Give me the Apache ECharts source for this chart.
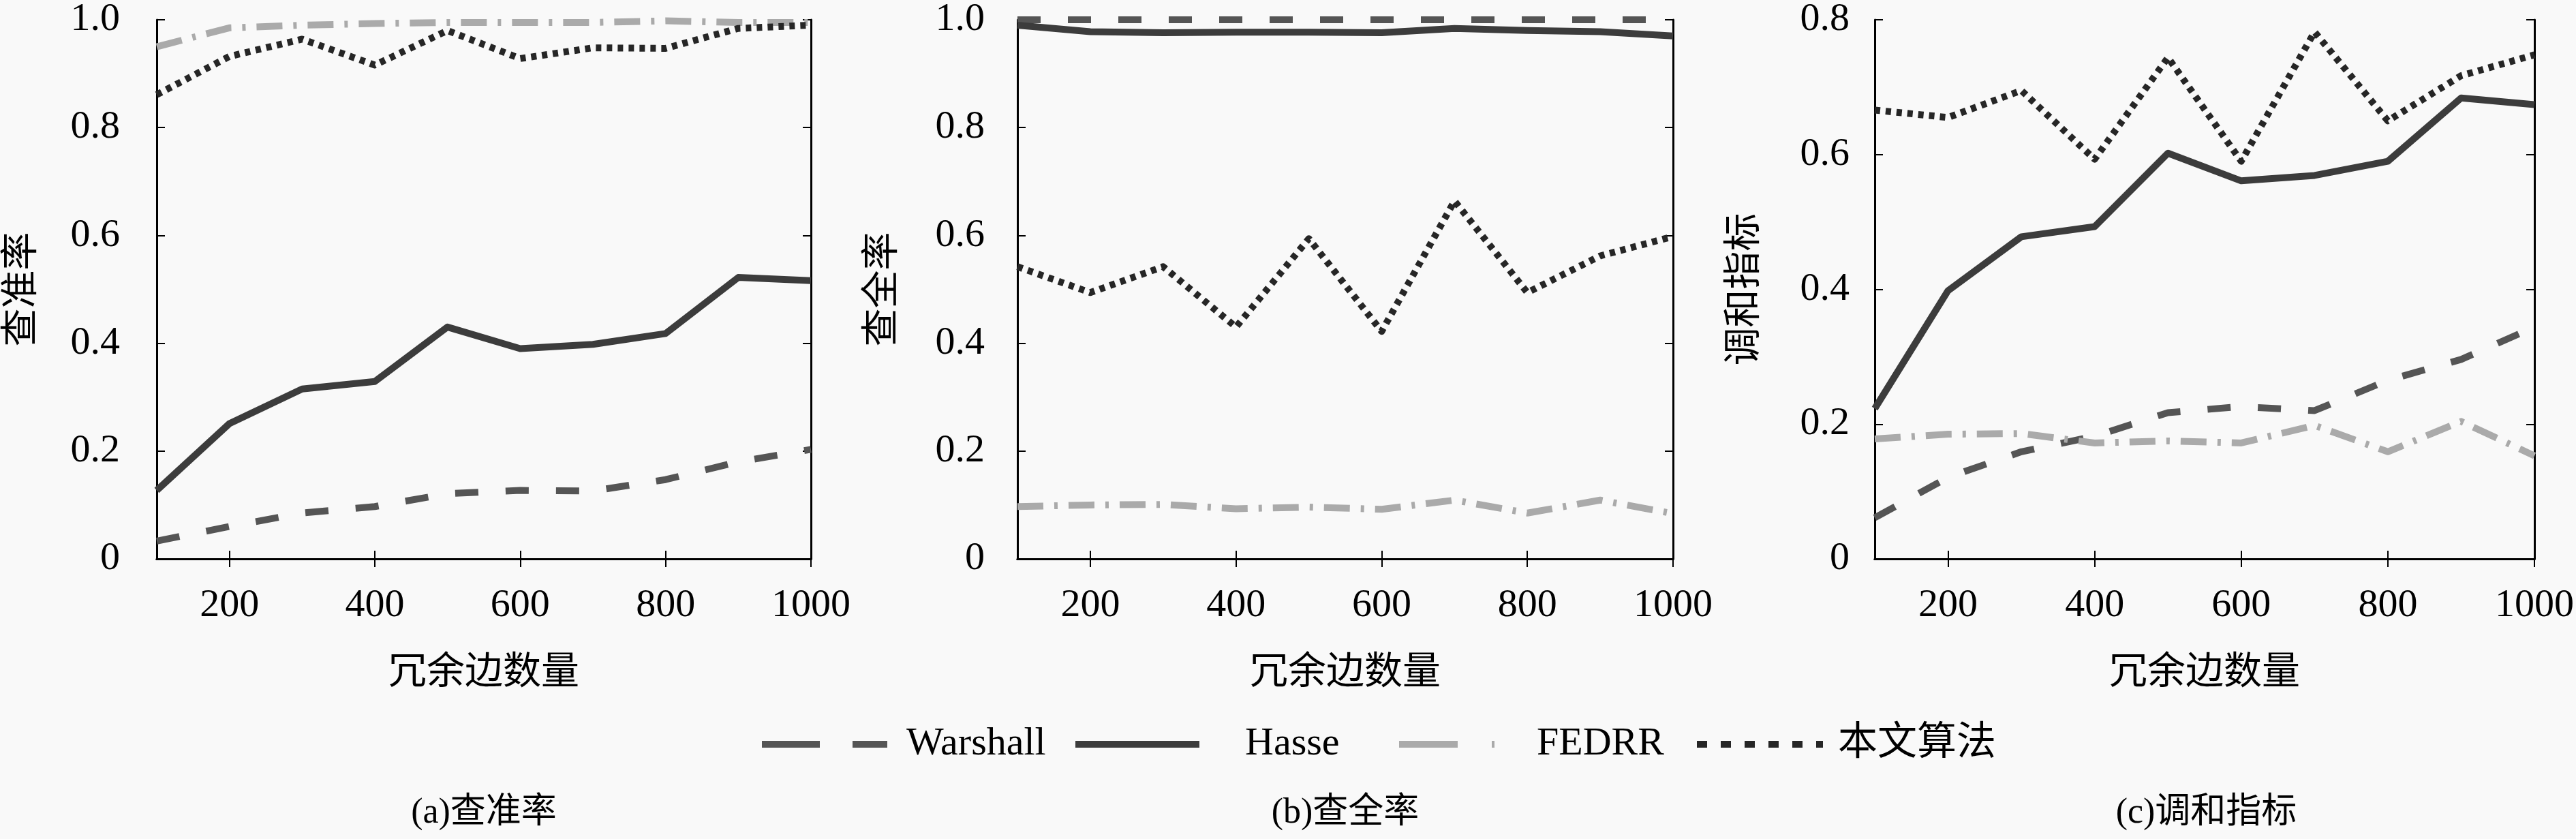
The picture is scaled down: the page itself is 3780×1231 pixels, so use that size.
<!DOCTYPE html>
<html>
<head>
<meta charset="utf-8">
<script src="https://cdn.jsdelivr.net/npm/echarts@6/dist/echarts.min.js"></script>
<style>
html,body{margin:0;padding:0;background:#f9f9f9;}
#chart{width:3780px;height:1231px;}
</style>
</head>
<body>
<div id="chart"></div>
<script>
// ---- data ----
const xValues = [100, 200, 300, 400, 500, 600, 700, 800, 900, 1000];
const xTickValues = [200, 400, 600, 800, 1000];
const seriesNames = ['Warshall', 'Hasse', 'FEDRR', '本文算法'];

// (a) 查准率
const precWarshall = [0.033, 0.060, 0.085, 0.097, 0.121, 0.127, 0.126, 0.147, 0.180, 0.203];
const precHasse    = [0.127, 0.251, 0.315, 0.329, 0.430, 0.390, 0.398, 0.418, 0.522, 0.516];
const precFEDRR    = [0.950, 0.985, 0.990, 0.993, 0.995, 0.995, 0.995, 0.998, 0.995, 0.995];
const precOurs     = [0.861, 0.932, 0.964, 0.916, 0.980, 0.928, 0.948, 0.947, 0.984, 0.990];

// (b) 查全率
const recWarshall = [1, 1, 1, 1, 1, 1, 1, 1, 1, 1];
const recHasse    = [0.990, 0.978, 0.976, 0.977, 0.977, 0.976, 0.984, 0.980, 0.978, 0.970];
const recFEDRR    = [0.097, 0.100, 0.101, 0.093, 0.096, 0.092, 0.109, 0.085, 0.109, 0.084];
const recOurs     = [0.542, 0.494, 0.542, 0.430, 0.594, 0.422, 0.664, 0.494, 0.562, 0.598];

// (c) 调和指标
const fWarshall = [0.061, 0.121, 0.159, 0.182, 0.217, 0.226, 0.220, 0.265, 0.296, 0.344];
const fHasse    = [0.223, 0.398, 0.478, 0.493, 0.602, 0.561, 0.569, 0.590, 0.684, 0.674];
const fFEDRR    = [0.178, 0.185, 0.186, 0.172, 0.175, 0.172, 0.198, 0.159, 0.204, 0.153];
const fOurs     = [0.666, 0.655, 0.695, 0.593, 0.744, 0.590, 0.782, 0.650, 0.717, 0.748];

const yAxisTitles = ['查准率', '查全率', '调和指标'];
const xAxisTitle = '冗余边数量';
const captions = ['(a)查准率', '(b)查全率', '(c)调和指标'];

// ---- styles / layout ----
const FONT = "'Liberation Serif', 'Times New Roman', 'DejaVu Serif', 'Noto Sans CJK SC', serif";
const styles = {
  'Warshall': { color: '#555555', type: [34, 40] },
  'Hasse':    { color: '#3c3c3c', type: 'solid' },
  'FEDRR':    { color: '#aaaaaa', type: [38, 16, 5, 16] },
  '本文算法':  { color: '#262626', type: [8, 8] }
};
const LW = 10;
const panels = [
  { left: 230,  width: 960, ymax: 1.0, lblMargin: 54, nameGap: 169, data: [precWarshall, precHasse, precFEDRR, precOurs] },
  { left: 1493, width: 962, ymax: 1.0, lblMargin: 48, nameGap: 169, data: [recWarshall, recHasse, recFEDRR, recOurs] },
  { left: 2751, width: 973, ymax: 0.8, lblMargin: 37, nameGap: 162, data: [fWarshall, fHasse, fFEDRR, fOurs] }
];
const GTOP = 20, GH = 800;

const grids = [], xAxes = [], yAxes = [], series = [], graphics = [];
panels.forEach((p, i) => {
  grids.push({ left: p.left, top: GTOP, width: p.width, height: GH, containLabel: false });
  const lineStyleAxis = { show: true, lineStyle: { color: '#000', width: 3 } };
  xAxes.push({
    gridIndex: i, type: 'value', position: 'bottom', min: 100, max: 1000, interval: 100,
    axisLine: lineStyleAxis,
    axisTick: { show: true, inside: true, length: 12, lineStyle: { color: '#000', width: 2 }, customValues: xTickValues },
    axisLabel: { show: true, margin: 40, fontFamily: FONT, fontSize: 58, color: '#000',
      customValues: xTickValues, formatter: v => String(v) },
    splitLine: { show: false },
    name: xAxisTitle, nameLocation: 'middle', nameGap: 140,
    nameTextStyle: { fontFamily: FONT, fontSize: 56, color: '#000' }
  });
  xAxes.push({
    gridIndex: i, type: 'value', position: 'top', min: 100, max: 1000, interval: 100,
    axisLine: lineStyleAxis,
    axisTick: { show: true, inside: true, length: 12, lineStyle: { color: '#000', width: 2 }, customValues: xTickValues },
    axisLabel: { show: false }, splitLine: { show: false }
  });
  yAxes.push({
    gridIndex: i, type: 'value', position: 'left', min: 0, max: p.ymax, interval: 0.2,
    axisLine: lineStyleAxis,
    axisTick: { show: true, inside: true, length: 12, lineStyle: { color: '#000', width: 2 } },
    axisLabel: { show: true, margin: p.lblMargin, fontFamily: FONT, fontSize: 58, color: '#000',
      formatter: v => (v === 0 ? '0' : v.toFixed(1)) },
    splitLine: { show: false },
    name: yAxisTitles[i], nameLocation: 'middle', nameRotate: 90, nameGap: p.nameGap,
    nameTextStyle: { fontFamily: FONT, fontSize: 56, color: '#000' }
  });
  yAxes.push({
    gridIndex: i, type: 'value', position: 'right', min: 0, max: p.ymax, interval: 0.2,
    axisLine: lineStyleAxis,
    axisTick: { show: true, inside: true, length: 12, lineStyle: { color: '#000', width: 2 } },
    axisLabel: { show: false }, splitLine: { show: false }
  });
  seriesNames.forEach((name, k) => {
    series.push({
      name: name, type: 'line', xAxisIndex: 2 * i, yAxisIndex: 2 * i,
      data: xValues.map((x, j) => [x, p.data[k][j]]),
      symbol: 'none', smooth: false, animation: false,
      lineStyle: { color: styles[name].color, width: LW, type: styles[name].type, cap: 'butt', join: 'round' },
      itemStyle: { color: styles[name].color },
      z: 2 + k
    });
  });
  graphics.push({
    type: 'text', x: p.left + p.width / 2, y: 1193,
    style: { text: captions[i], font: "52px " + FONT, fill: '#000', textAlign: 'center', textVerticalAlign: 'middle' }
  });
});

// legends positioned individually
const legendSpec = [
  { name: 'Warshall', left: 1108, w: 185, gap: 22, type: [85, 48, 51, 200] },
  { name: 'Hasse',    left: 1568, w: 182, gap: 62, type: 'solid' },
  { name: 'FEDRR',    left: 2043, w: 143, gap: 54, type: [86, 50, 4, 200] },
  { name: '本文算法',  left: 2480, w: 185, gap: 17, type: [15, 20] }
];
const legends = legendSpec.map(l => ({
  left: l.left, top: 1058, orient: 'horizontal', selectedMode: false,
  data: [l.name], itemWidth: l.w, itemHeight: 70,
  itemStyle: { opacity: 0 },
  lineStyle: { type: l.type, width: LW },
  textStyle: { fontFamily: FONT, fontSize: 58, color: '#000', padding: [0, 0, 0, l.gap] }
}));

const chart = echarts.init(document.getElementById('chart'), null, { renderer: 'canvas' });
chart.setOption({
  backgroundColor: '#f9f9f9',
  animation: false,
  grid: grids, xAxis: xAxes, yAxis: yAxes, series: series,
  legend: legends, graphic: graphics
});
</script>
</body>
</html>
